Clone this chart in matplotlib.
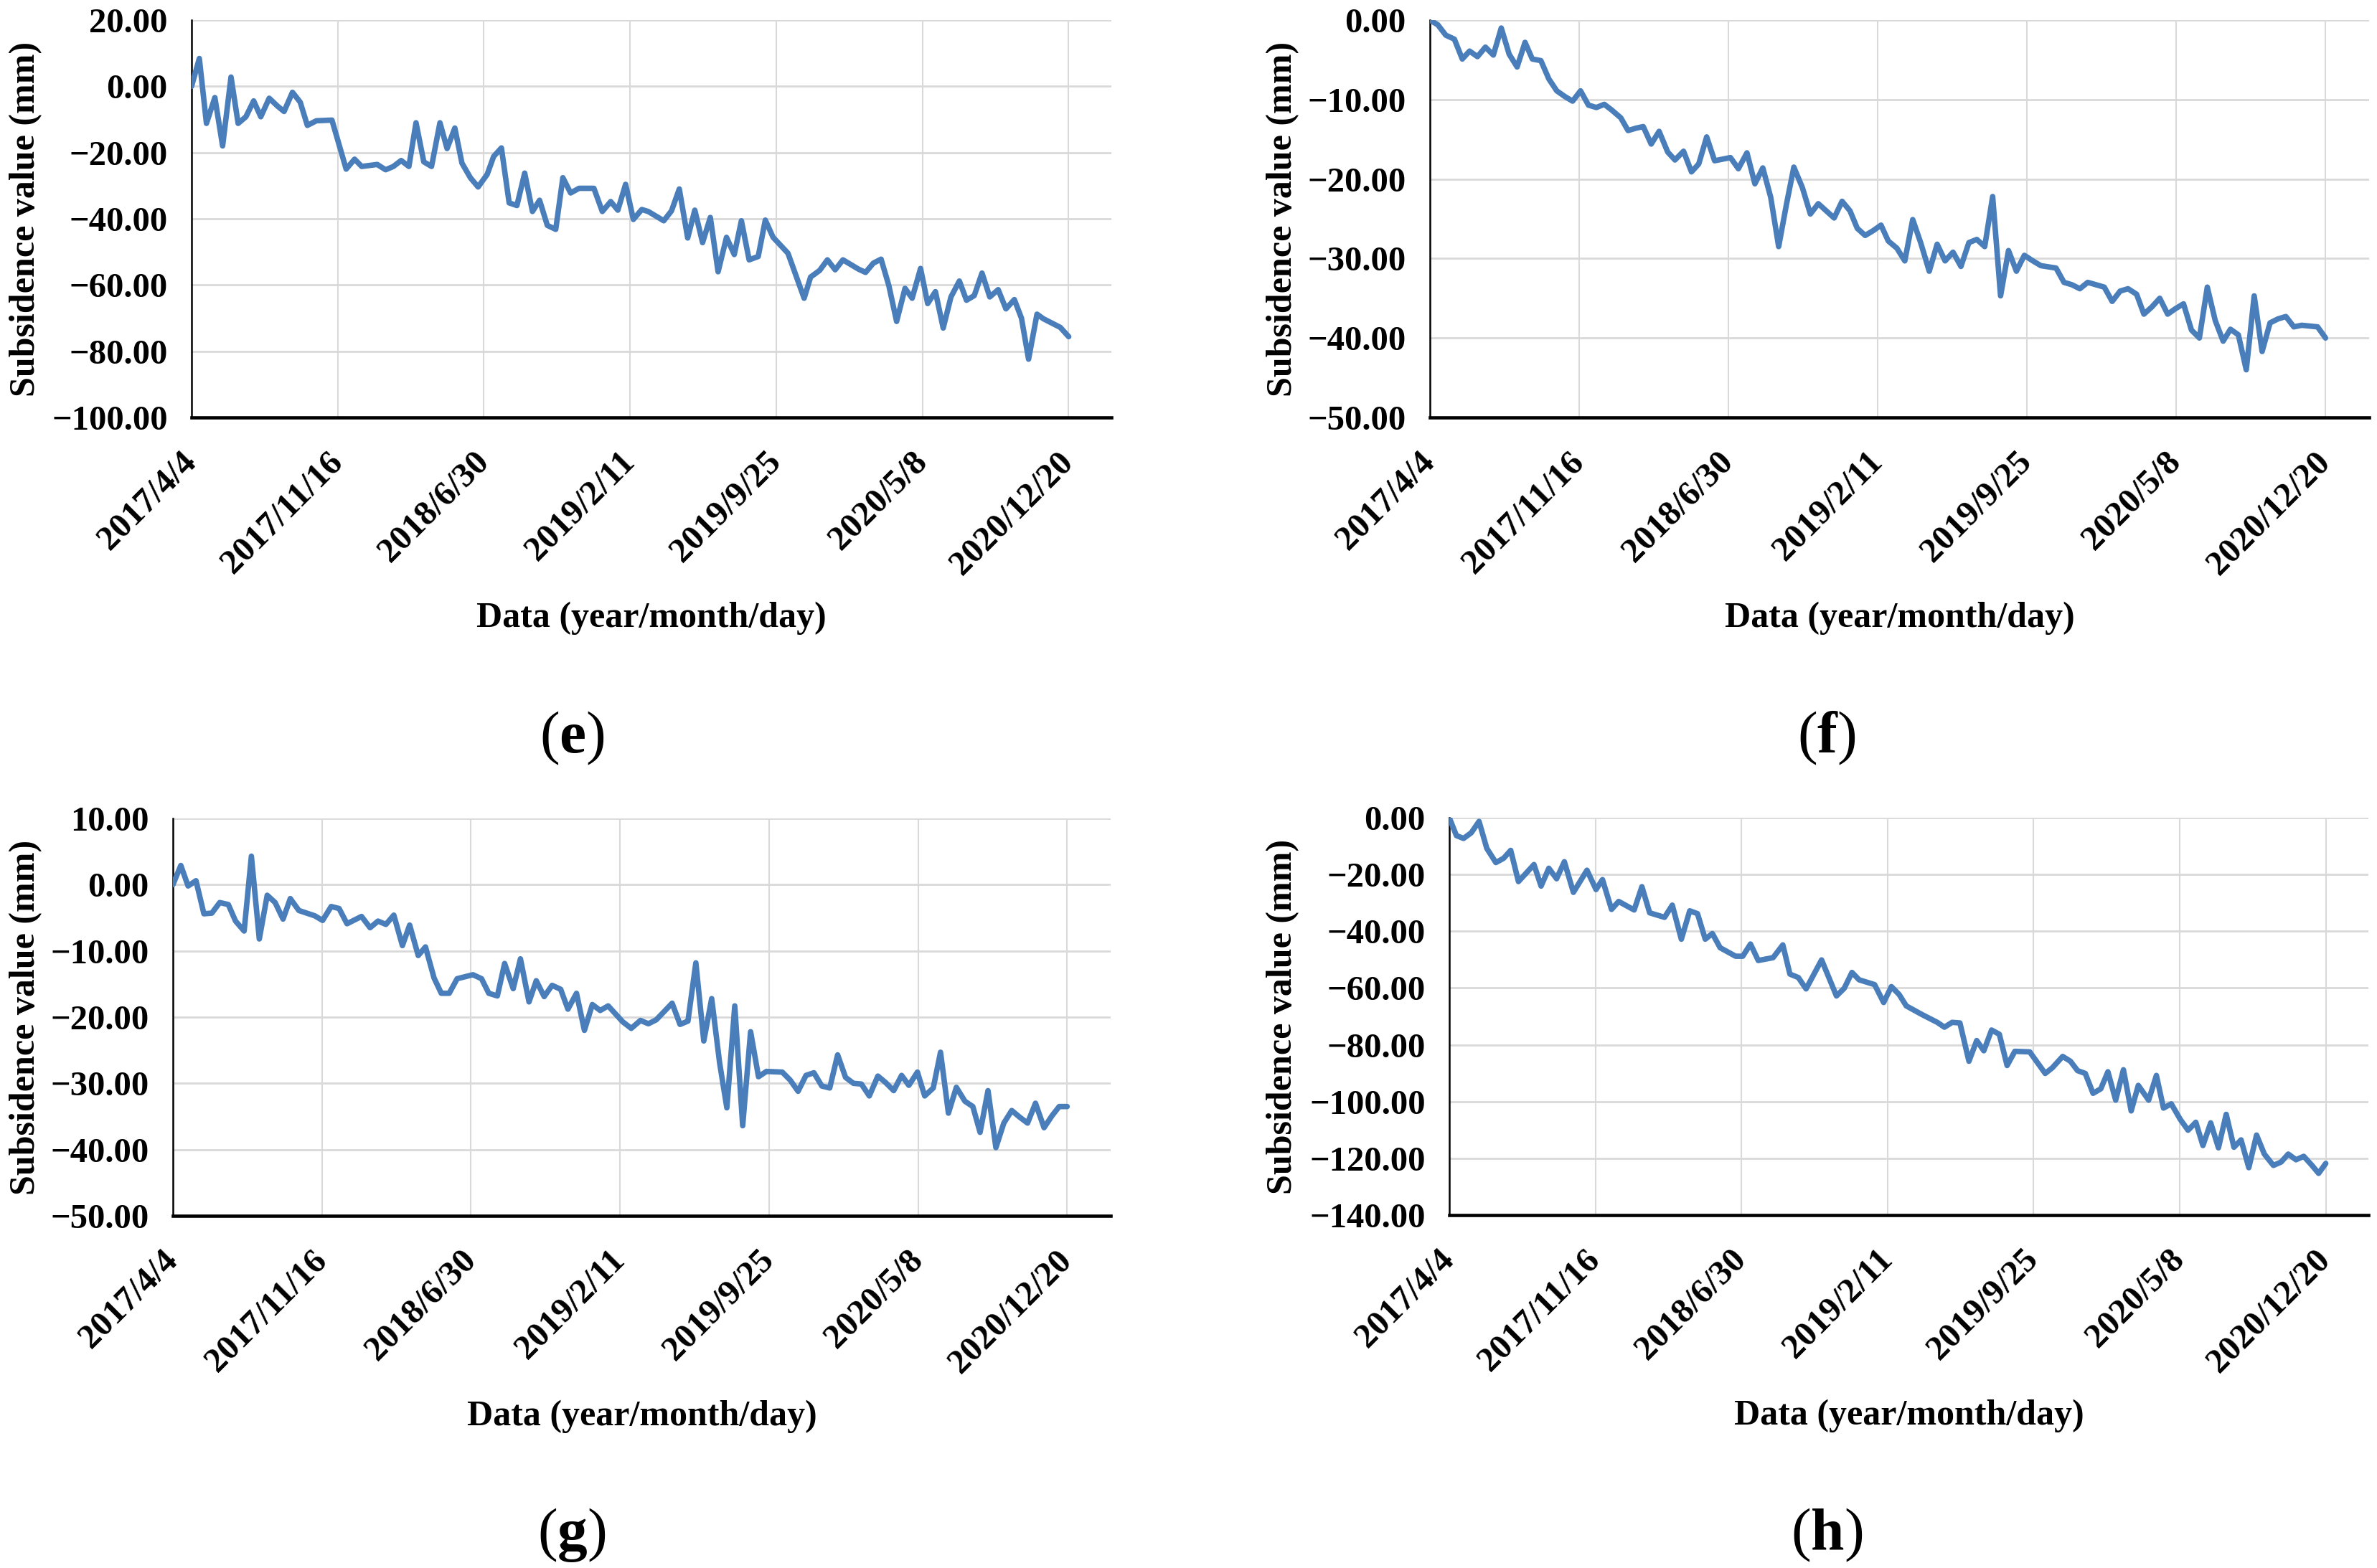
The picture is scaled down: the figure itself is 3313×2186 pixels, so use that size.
import numpy as np
import pandas as pd
import matplotlib
matplotlib.use('Agg')
import matplotlib.pyplot as plt
from matplotlib.transforms import ScaledTranslation

plt.rcParams['font.family'] = ['Liberation Serif', 'DejaVu Serif']
plt.rcParams['mathtext.fontset'] = 'custom'
plt.rcParams['mathtext.rm'] = 'Liberation Serif'
plt.rcParams['mathtext.bf'] = 'Liberation Serif:bold'

# ---------------- data ----------------
start_date = '2017-04-04'
tick_labels = ['2017/4/4', '2017/11/16', '2018/6/30', '2019/2/11',
               '2019/9/25', '2020/5/8', '2020/12/20']

# (e) days since 2017/4/4, subsidence (mm)
e_days = [0, 12, 23, 36, 48, 61, 72, 84, 96, 107, 120, 133, 143, 156, 168, 179, 193, 217,
          228, 239, 252, 263, 287, 300, 312, 324, 336, 347, 359, 371, 384, 395, 407, 418,
          431, 443, 457, 467, 479, 491, 503, 515, 527, 538, 550, 563, 574, 586, 599, 622,
          635, 648, 659, 671, 683, 696, 706, 730, 742, 754, 767, 778, 790, 802, 814, 827,
          839, 850, 862, 876, 887, 899, 922, 947, 957, 971, 983, 995, 1007, 1031, 1042,
          1054, 1066, 1078, 1090, 1103, 1114, 1127, 1138, 1150, 1162, 1174, 1187, 1198,
          1210, 1222, 1234, 1247, 1259, 1272, 1283, 1294, 1307, 1317, 1331, 1343, 1356]
e_vals = [0, 8.4, -11.2, -3.4, -18, 2.8, -11.2, -9.2, -4.4, -9.2, -3.6, -6, -7.6, -1.8,
          -4.8, -11.8, -10.4, -10.2, -17.6, -25, -22, -24.2, -23.6, -25.2, -24.2, -22.4,
          -24.2, -11, -22.8, -24.2, -11, -18.8, -12.6, -23.2, -27.6, -30.4, -26.6, -21.2,
          -18.6, -35.2, -36, -26.2, -37.8, -34.4, -42, -43.2, -27.6, -32.2, -30.8, -30.8,
          -37.8, -34.8, -37.4, -29.6, -40.2, -37.2, -37.8, -40.6, -37.6, -31, -45.8, -37.4,
          -47.2, -39.6, -56, -45.6, -50.8, -40.6, -52.4, -51.4, -40.4, -45.6, -50.4, -64,
          -57.6, -55.6, -52.4, -55.4, -52.4, -55.2, -56.2, -53.4, -52.2, -60.2, -71, -61,
          -64, -55, -65.6, -62, -73, -63.6, -58.8, -64.6, -63.2, -56.4, -63.6, -61.4, -67.2,
          -64.4, -70, -82.4, -68.8, -70.2, -71.6, -72.8, -75.6]

# (f)
f_days = [0, 12, 24, 37, 49, 60, 72, 84, 96, 108, 120, 132, 144, 155, 168, 180, 192, 204,
          216, 228, 240, 252, 264, 275, 289, 300, 312, 323, 335, 347, 360, 371, 384, 396,
          407, 419, 431, 455, 467, 480, 492, 504, 516, 528, 540, 551, 564, 576, 588, 600,
          612, 624, 636, 647, 659, 671, 683, 694, 707, 719, 731, 743, 756, 768, 780, 792,
          804, 816, 828, 840, 852, 864, 876, 888, 900, 913, 925, 948, 960, 972, 984, 996,
          1021, 1033, 1045, 1057, 1070, 1081, 1093, 1105, 1117, 1129, 1141, 1153, 1165,
          1177, 1189, 1201, 1212, 1224, 1236, 1248, 1260, 1272, 1284, 1296, 1308, 1320,
          1344, 1356]
f_vals = [0, -0.6, -1.9, -2.4, -4.9, -3.9, -4.6, -3.4, -4.4, -1.0, -4.3, -5.9, -2.8, -4.9,
          -5.1, -7.4, -8.9, -9.6, -10.2, -8.9, -10.7, -11.0, -10.6, -11.3, -12.3, -13.9,
          -13.6, -13.4, -15.6, -14.0, -16.6, -17.6, -16.5, -19.1, -18.1, -14.7, -17.7,
          -17.3, -18.7, -16.7, -20.6, -18.6, -22.3, -28.5, -23.1, -18.5, -21.1, -24.4,
          -23.1, -24.0, -24.9, -22.8, -24.0, -26.2, -27.1, -26.5, -25.8, -27.8, -28.7,
          -30.3, -25.1, -28.0, -31.6, -28.2, -30.3, -29.2, -31.0, -28.0, -27.6, -28.5,
          -22.2, -34.7, -29.0, -31.6, -29.6, -30.3, -30.9, -31.2, -33.0, -33.3, -33.8,
          -33.0, -33.6, -35.4, -34.1, -33.8, -34.5, -37.0, -36.1, -35.0, -37.0, -36.3,
          -35.7, -39.0, -40.0, -33.6, -37.8, -40.4, -38.9, -39.6, -44.0, -34.7, -41.7,
          -38.1, -37.6, -37.3, -38.6, -38.4, -38.6, -40.0]

# (g)
g_days = [0, 12, 23, 35, 47, 59, 71, 84, 95, 108, 119, 131, 143, 155, 167, 178, 191, 215,
          227, 240, 252, 264, 286, 299, 311, 323, 335, 348, 359, 372, 383, 396, 407, 419,
          431, 455, 468, 479, 492, 503, 516, 527, 540, 551, 563, 575, 588, 599, 612, 624,
          636, 648, 660, 682, 695, 709, 721, 733, 757, 769, 781, 793, 805, 817, 829, 840,
          852, 864, 876, 888, 900, 924, 936, 948, 960, 972, 984, 996, 1008, 1020, 1032,
          1044, 1056, 1069, 1081, 1093, 1105, 1116, 1129, 1140, 1153, 1164, 1176, 1188,
          1201, 1213, 1224, 1236, 1248, 1260, 1272, 1284, 1296, 1308, 1321, 1333, 1344,
          1356]
g_vals = [0, 2.9, -0.2, 0.6, -4.4, -4.3, -2.7, -3.0, -5.5, -7.0, 4.3, -8.2, -1.6, -2.7,
          -5.2, -2.1, -3.9, -4.7, -5.4, -3.3, -3.6, -5.9, -4.8, -6.5, -5.5, -6.0, -4.6,
          -9.2, -6.1, -10.7, -9.4, -14.1, -16.4, -16.4, -14.2, -13.6, -14.2, -16.4, -16.8,
          -11.9, -15.7, -11.2, -17.7, -14.5, -16.9, -15.2, -15.8, -18.8, -16.4, -22.0,
          -18.1, -19.0, -18.3, -20.7, -21.7, -20.5, -21.0, -20.4, -17.9, -21.1, -20.6,
          -11.8, -23.6, -17.2, -26.9, -33.7, -18.3, -36.4, -22.2, -29.0, -28.2, -28.3,
          -29.5, -31.2, -28.8, -28.4, -30.4, -30.7, -25.7, -29.1, -30.0, -30.1, -31.9,
          -28.9, -29.9, -31.1, -28.8, -30.3, -28.3, -31.9, -30.7, -25.3, -34.5, -30.6,
          -32.7, -33.5, -37.4, -31.1, -39.7, -36.0, -34.1, -35.1, -36.0, -33.0, -36.7,
          -34.9, -33.5, -33.5]

# (h)
h_days = [0, 11, 22, 34, 46, 58, 72, 84, 95, 107, 131, 142, 154, 166, 178, 192, 213, 227,
          237, 251, 262, 286, 298, 310, 333, 345, 359, 372, 384, 396, 407, 419, 443, 454,
          466, 478, 501, 516, 527, 540, 552, 576, 599, 611, 623, 634, 658, 672, 684, 696,
          707, 731, 755, 766, 778, 790, 804, 816, 827, 839, 851, 863, 875, 898, 922, 933,
          949, 961, 972, 984, 996, 1008, 1019, 1031, 1043, 1055, 1066, 1082, 1094, 1105,
          1117, 1131, 1143, 1155, 1166, 1178, 1190, 1202, 1214, 1225, 1237, 1249, 1261,
          1275, 1287, 1298, 1310, 1322, 1334, 1345, 1356]
h_vals = [0, -6.3, -7.3, -5.3, -1.3, -10.8, -15.8, -14.3, -11.5, -22.5, -16.5, -24.1,
          -17.8, -21.5, -15.5, -26.3, -18.5, -25.3, -21.8, -32.3, -29.5, -32.5, -24.3,
          -33.5, -35.1, -30.8, -42.8, -32.8, -33.8, -42.8, -40.8, -45.8, -48.8, -48.8,
          -44.5, -50.3, -49.3, -44.8, -55.1, -56.3, -60.3, -50.1, -62.8, -60.1, -54.5,
          -57.1, -58.8, -65.1, -59.5, -62.3, -66.3, -69.3, -72.1, -73.8, -72.1, -72.3,
          -85.8, -78.5, -82.1, -74.8, -76.3, -87.3, -82.3, -82.5, -90.1, -88.1, -84.1,
          -85.8, -89.1, -90.1, -97.1, -95.5, -89.5, -99.5, -88.8, -103.3, -94.3, -99.5,
          -90.8, -102.3, -100.8, -106.3, -110.1, -107.3, -115.5, -107.5, -116.3, -104.5,
          -116.1, -113.5, -123.3, -111.8, -118.5, -122.5, -121.3, -118.5, -120.5, -119.3,
          -122.3, -125.3, -121.8]

e_yticks = [20, 0, -20, -40, -60, -80, -100]
f_yticks = [0, -10, -20, -30, -40, -50]
g_yticks = [10, 0, -10, -20, -30, -40, -50]
h_yticks = [0, -20, -40, -60, -80, -100, -120, -140]

panel_letters = ['e', 'f', 'g', 'h']
x_title = 'Data (year/month/day)'
y_title = 'Subsidence value (mm)'

# ---------------- layout ----------------
W, H = 3313, 2186
fig = plt.figure(figsize=(W / 100, H / 100), dpi=100)
fig.patch.set_facecolor('white')

def rect(l, r, t, b):
    return [l / W, 1 - b / H, (r - l) / W, (b - t) / H]

panels = [
    dict(days=e_days, vals=e_vals, yt=e_yticks, rect=rect(267, 1549, 28, 582),
         ylab_x=36, lab=(797, 1029)),
    dict(days=f_days, vals=f_vals, yt=f_yticks, rect=rect(1993, 3302, 28, 582),
         ylab_x=1788, lab=(2546, 1029)),
    dict(days=g_days, vals=g_vals, yt=g_yticks, rect=rect(241, 1548, 1141, 1695),
         ylab_x=36, lab=(797, 2140)),
    dict(days=h_days, vals=h_vals, yt=h_yticks, rect=rect(2020, 3301, 1140, 1694),
         ylab_x=1788, lab=(2546, 2140)),
]

t0 = pd.Timestamp(start_date)
tick_dates = pd.to_datetime(tick_labels, format='%Y/%m/%d')
x_end = tick_dates[-1] + pd.Timedelta(days=66)

line_color = '#4a7ebb'
grid_color = '#d9d9d9'
fs_tick = 35
fs_lab = 36
shift = ScaledTranslation(10 / 100, 0, fig.dpi_scale_trans)

for p, letter in zip(panels, panel_letters):
    ax = fig.add_axes(p['rect'])
    dates = t0 + pd.to_timedelta(p['days'], unit='D')
    ax.plot(dates, p['vals'], color=line_color, lw=5.5, solid_joinstyle='round',
            solid_capstyle='round', zorder=3)
    ax.set_xlim(t0, x_end)
    ax.set_ylim(min(p['yt']), max(p['yt']))
    ax.set_yticks(p['yt'])
    ax.set_yticklabels([f'{v:.2f}'.replace('-', '\u2212') for v in p['yt']],
                       fontsize=fs_tick, fontweight='bold')
    ax.set_xticks(tick_dates)
    ax.set_xticklabels(tick_labels, rotation=45, ha='right', va='center',
                       rotation_mode='anchor', fontsize=fs_tick, fontweight='bold')
    for lbl in ax.get_xticklabels():
        lbl.set_transform(lbl.get_transform() + shift)
    ax.tick_params(axis='y', length=0, pad=24)
    ax.tick_params(axis='x', length=0, pad=40)
    ax.set_axisbelow(True)
    ax.yaxis.grid(True, color=grid_color, lw=2.0)
    ax.xaxis.grid(True, color=grid_color, lw=1.5)
    for s in ['top', 'right']:
        ax.spines[s].set_visible(False)
    ax.spines['left'].set_linewidth(1.8)
    ax.spines['left'].set_color('black')
    ax.spines['bottom'].set_linewidth(3.3)
    ax.spines['bottom'].set_color('black')
    l, b, w, h = p['rect']
    # y axis title
    fig.text(p['ylab_x'] / W, b + h / 2, y_title, rotation=90, ha='center', va='center',
             fontsize=fs_lab, fontweight='bold')
    # x axis title
    fig.text(l + w / 2, b - 280 / H, x_title, ha='center', va='center',
             fontsize=fs_lab, fontweight='bold')
    # panel label
    fig.text(p['lab'][0] / W, 1 - p['lab'][1] / H, '(' + r'$\mathbf{' + letter + '}$' + ')',
             ha='center', va='center', fontsize=60)

fig.savefig('out.png', dpi=100, facecolor='white')
